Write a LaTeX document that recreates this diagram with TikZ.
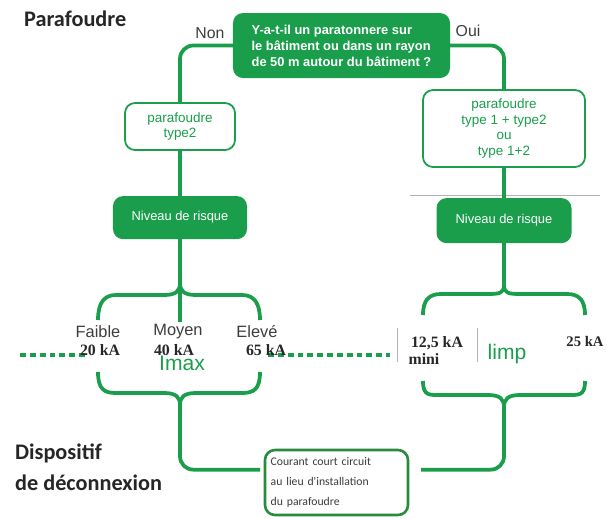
\documentclass[tikz,border=0pt]{standalone}
\usepackage{fontspec}
\setmainfont{Liberation Sans}
\newfontfamily\calibrifont{Carlito}
\newfontfamily\kafont{Liberation Serif}
\usetikzlibrary{positioning}
\definecolor{vert}{RGB}{26,158,76}
\definecolor{vertfonce}{RGB}{40,140,62}
\definecolor{texte}{RGB}{60,60,60}
\tikzstyle{question} = [rectangle, rounded corners=0.3cm, fill=vert, text=white, align=left, minimum width=6.51cm, minimum height=1.95cm, font=\fontsize{11}{13.6}\selectfont\bfseries]
\tikzstyle{choix} = [rectangle, rounded corners=0.3cm, draw=vert, line width=1.5pt, fill=white, text=vert, align=center, font=\fontsize{11.5}{13.3}\selectfont]
\tikzstyle{risque} = [rectangle, rounded corners=0.3cm, fill=vert, text=white, font=\fontsize{11}{13}\selectfont]
\tikzstyle{resultat} = [rectangle, rounded corners=0.3cm, draw=vertfonce, line width=2.2pt, fill=white, text=texte, align=left, text width=3.95cm, inner xsep=0.17cm, minimum height=1.95cm, font=\calibrifont\fontsize{10}{17}\selectfont]
\tikzstyle{titre} = [anchor=west, text=black!85, font=\calibrifont\bfseries\fontsize{19}{22}\selectfont]
\tikzstyle{reponse} = [text=texte, font=\fontsize{13.5}{15}\selectfont]
\tikzstyle{niveau} = [text=texte, font=\fontsize{14}{16}\selectfont]
\tikzstyle{courant} = [text=black!85, font=\kafont\bfseries\fontsize{13.5}{15}\selectfont]
\tikzstyle{grand} = [text=vert, font=\fontsize{18}{20}\selectfont]
\tikzstyle{wire} = [vert, line width=3.2pt]
\tikzstyle{pointille} = [vert, line width=3.5pt, dash pattern=on 5pt off 3.4pt]
\tikzstyle{gris} = [black!30, line width=0.6pt]

\begin{document}
\begin{tikzpicture}[x=0.03cm, y=-0.03cm]
\useasboundingbox (0,0) rectangle (607,518);

% titres
\node (para) [titre] at (20,19) {Parafoudre};
\node (dispo) [titre] at (11,453) {Dispositif};
\node (decon) [titre] at (11,483) {de déconnexion};

% question
\node (quest) [question] at (341.5,45.5) {Y-a-t-il un paratonnere sur\\le bâtiment ou dans un rayon\\de 50 m autour du bâtiment ?};
\node (non) [reponse] at (210,33) {Non};
\node (oui) [reponse] at (468,31) {Oui};

% parafoudres
\node (typeg) [choix, minimum width=3.3cm, minimum height=1.41cm] at (180,126.5) {parafoudre\\type2};
\node (typed) [choix, minimum width=4.86cm, minimum height=2.31cm] at (504,128.5) {parafoudre\\type 1 + type2\\ou\\type 1+2};
\node (nivg) [risque, minimum width=4.02cm, minimum height=1.29cm, below=1.35cm of typeg] {Niveau de risque};
\node (nivd) [risque, minimum width=4.05cm, minimum height=1.35cm, below=0.9cm of typed] {Niveau de risque};
\draw [gris] (410,195) -- (600,195);

\draw [wire, rounded corners=0.4cm] (quest.west) -| (typeg.north);
\draw [wire, rounded corners=0.4cm] (quest.east) -| (typed.north);
\draw [wire] (typeg) -- (nivg);
\draw [wire] (typed) -- (nivd);

% accolades
\coordinate (noeudg) at (180,283);
\coordinate (hautg1) at (98,320);
\coordinate (hautg2) at (180,322);
\coordinate (hautg3) at (260,320);
\coordinate (basg1) at (98,372);
\coordinate (basg2) at (260,372);
\coordinate (noeudbg) at (180,405);
\coordinate (noeuddh) at (504,285);
\coordinate (hautd1) at (423,315);
\coordinate (hautd2) at (585,315);
\coordinate (basd1) at (423,381);
\coordinate (basd2) at (585,381);
\coordinate (noeudbd) at (504,407);

\draw [wire] (nivg) -- (hautg2);
\draw [wire] (hautg1) .. controls +(0,-17) and +(-12,0) .. (116,295) -- (164,295) .. controls +(12,0) and +(0,8) .. (noeudg);
\draw [wire] (hautg3) .. controls +(0,-17) and +(12,0) .. (242,295) -- (196,295) .. controls +(-12,0) and +(0,8) .. (noeudg);
\draw [wire] (basg1) .. controls +(0,17) and +(-12,0) .. (116,393) -- (164,393) .. controls +(12,0) and +(0,-8) .. (noeudbg);
\draw [wire] (basg2) .. controls +(0,17) and +(12,0) .. (242,393) -- (196,393) .. controls +(-12,0) and +(0,-8) .. (noeudbg);

\draw [wire] (nivd) -- (noeuddh);
\draw [wire] (hautd1) .. controls +(0,-15) and +(-12,0) .. (441,294) -- (488,294) .. controls +(12,0) and +(0,8) .. (noeuddh);
\draw [wire] (hautd2) .. controls +(0,-15) and +(12,0) .. (567,294) -- (520,294) .. controls +(-12,0) and +(0,8) .. (noeuddh);
\draw [wire] (basd1) .. controls +(0,15) and +(-12,0) .. (441,395) -- (488,395) .. controls +(12,0) and +(0,-8) .. (noeudbd);
\draw [wire] (basd2) .. controls +(0,15) and +(12,0) .. (567,395) -- (520,395) .. controls +(-12,0) and +(0,-8) .. (noeudbd);

% dispositif
\node (court) [resultat] at (336.5,482.5) {Courant court circuit\\au lieu d'installation\\du parafoudre};
\draw [wire, rounded corners=0.4cm, shorten >=3pt] (noeudbg) |- (court.170);
\draw [wire, rounded corners=0.4cm, shorten >=10pt] (noeudbd) |- (court.10);

% niveaux Imax
\coordinate (tg1) at (20,355);
\coordinate (tg2) at (86,355);
\coordinate (td1) at (268,355);
\coordinate (td2) at (390,355);
\draw [pointille] (tg1) -- (tg2);
\draw [pointille] (td1) -- (td2);
\node (imax) [grand] at (182,363) {Imax};
\node (faible) [niveau] at (98,332) {Faible};
\node (moyen) [niveau] at (178,332) {Moyen};
\node (eleve) [niveau] at (257,332) {Elevé};
\node (ka20) [courant] at (100,350) {20 kA};
\node (ka40) [courant] at (174,350) {40 kA};
\node (ka65) [courant] at (266,350) {65 kA};

% niveaux limp
\draw [gris] (397,328) -- (397,362);
\draw [gris] (477,328) -- (477,362);
\node (ka125) [courant] at (437,343) {12,5 kA};
\node (mini) [courant] at (424,359) {mini};
\node (limp) [grand] at (507,354) {limp};
\node (ka25) [courant, font=\kafont\bfseries\fontsize{12.5}{15}\selectfont] at (585,341) {25 kA};
\end{tikzpicture}
\end{document}
